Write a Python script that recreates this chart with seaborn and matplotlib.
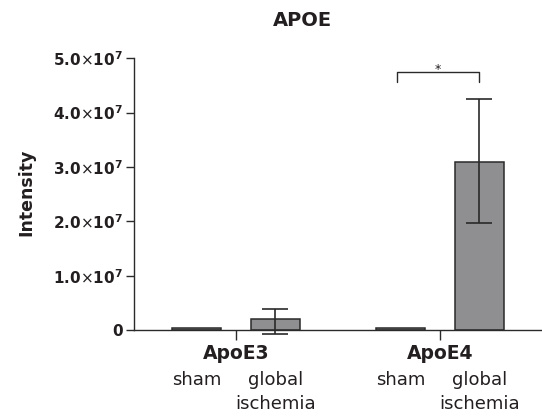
import matplotlib
matplotlib.use("Agg")
import matplotlib.pyplot as plt
import pandas as pd
import seaborn as sns

# values
groups = ["ApoE3", "ApoE3", "ApoE4", "ApoE4"]
conditions = ["sham", "global\nischemia", "sham", "global\nischemia"]
means = [3.0e5, 2.0e6, 3.0e5, 3.1e7]
err_low = [0, 2.75e6, 0, 1.13e7]
err_high = [0, 1.9e6, 0, 1.15e7]
group_order = ["ApoE3", "ApoE4"]
cond_order = ["sham", "global\nischemia"]
yticks = [0, 1e7, 2e7, 3e7, 4e7, 5e7]
ytick_labels = ["0",
                r"$\mathbf{1.0}{\times}\mathbf{10^{7}}$",
                r"$\mathbf{2.0}{\times}\mathbf{10^{7}}$",
                r"$\mathbf{3.0}{\times}\mathbf{10^{7}}$",
                r"$\mathbf{4.0}{\times}\mathbf{10^{7}}$",
                r"$\mathbf{5.0}{\times}\mathbf{10^{7}}$"]
sig_bracket = [4.56e7, 4.75e7]

df = pd.DataFrame({"group": groups, "condition": conditions, "intensity": means})

sns.set_style("ticks")
plt.rcParams["font.family"] = ["DejaVu Sans"]
plt.rcParams["mathtext.fontset"] = "dejavusans"
txt = "#231f20"
line = "#2a2a2a"

fig = plt.figure(figsize=(5.42, 4.17), dpi=100)
ax = fig.add_axes([0.2472, 0.2086, 0.7528, 0.6516])

sns.barplot(data=df, x="group", y="intensity", hue="condition",
            order=group_order, hue_order=cond_order, dodge=True,
            width=0.77, gap=0.37, palette=["#8e8f93", "#8e8f93"],
            edgecolor=line, linewidth=1.1, errorbar=None, legend=False, ax=ax)

# error bars on top of the bars
centers = {}
for cond, cont in zip(cond_order, ax.containers):
    for g, bar in zip(group_order, cont):
        cx = bar.get_x() + bar.get_width() / 2
        centers[(g, cond)] = cx
        i = [k for k in range(len(groups)) if groups[k] == g and conditions[k] == cond][0]
        if err_high[i] > 0:
            eb = ax.errorbar(cx, means[i], yerr=[[err_low[i]], [err_high[i]]], fmt="none",
                             ecolor=line, elinewidth=1.2, capsize=9.5, capthick=1.2)
            for art in eb.lines[1] + eb.lines[2]:
                art.set_clip_on(False)

# significance bracket
x1 = centers[("ApoE4", "sham")] - 4 / 204
x2 = centers[("ApoE4", "global\nischemia")]
ax.plot([x1, x1, x2, x2], [sig_bracket[0], sig_bracket[1], sig_bracket[1], sig_bracket[0]],
        color=line, lw=1, clip_on=False)
ax.text((x1 + x2) / 2, sig_bracket[1] + 0.05e7, "*", ha="center", va="center",
        fontsize=9, color=txt)

ax.set_xlim(-0.5, 1.5)
ax.set_ylim(0, 5e7)
ax.set_yticks(yticks)
ax.set_yticklabels(ytick_labels, fontsize=11, fontweight="bold", color=txt)
ax.set_xticks(range(len(group_order)))
ax.set_xticklabels(group_order, fontsize=13.5, fontweight="bold", color=txt)
ax.tick_params(axis="y", length=6, width=1, colors=line, pad=2)
ax.tick_params(axis="x", length=7, width=1, colors=line, pad=3)
for lab in ax.get_xticklabels() + ax.get_yticklabels():
    lab.set_color(txt)
ax.set_xlabel("")
ax.set_ylabel("")
sns.despine(ax=ax)
for s in ["left", "bottom"]:
    ax.spines[s].set_color(line)
    ax.spines[s].set_linewidth(1)

# condition labels under each bar
for (g, cond), cx in centers.items():
    xf = fig.transFigure.inverted().transform(ax.transData.transform((cx, 0)))[0]
    fig.text(xf, 1 - 371 / 417, cond, ha="center", va="top", fontsize=13,
             color=txt, linespacing=1.45)

fig.text(302.5 / 542, 1 - 20 / 417, "APOE", ha="center", va="center",
         fontsize=14, fontweight="bold", color=txt)
fig.text(26 / 542, 1 - 192 / 417, "Intensity", ha="center", va="center",
         rotation=90, fontsize=12.5, fontweight="bold", color=txt)

fig.savefig("out.png", dpi=100)
